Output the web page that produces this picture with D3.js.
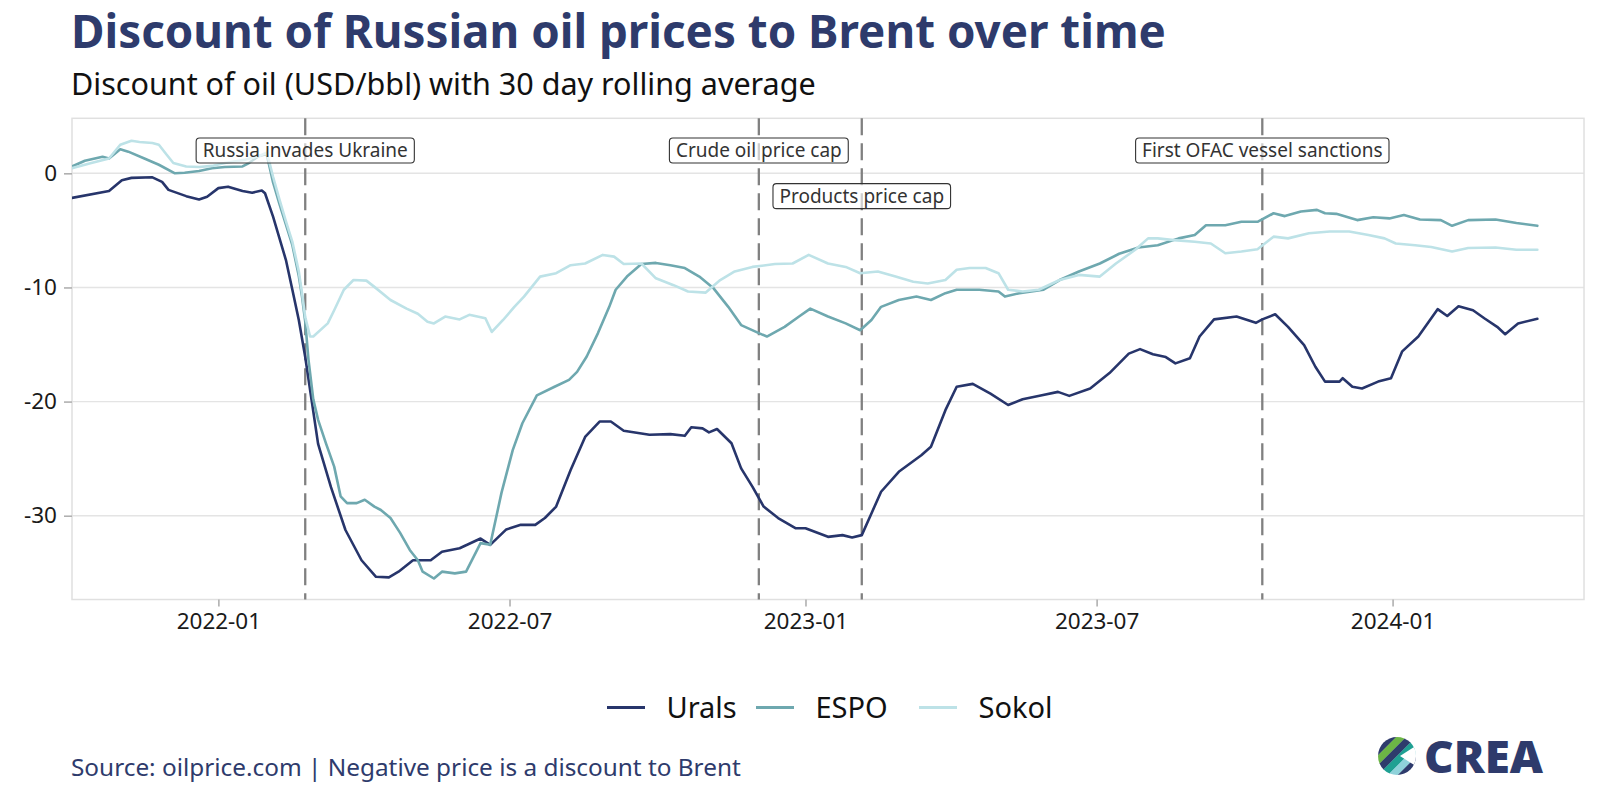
<!DOCTYPE html>
<html><head><meta charset="utf-8">
<script src="https://cdn.jsdelivr.net/npm/d3@7"></script>
<style>
body{margin:0;background:#fff}
svg{display:block}
text{font-family:"Noto Sans","Open Sans",sans-serif}
</style>
</head><body>
<svg id="chart" width="1600" height="800"></svg>
<script>
// ---------------- DATA ----------------
const seriesNames = ["Urals", "ESPO", "Sokol"];
const seriesColors = ["#27356b", "#6ea8af", "#bde2e7"];

const urals = [["2021-10-02",-2.15],["2021-10-25",-1.55],["2021-11-02",-0.6],["2021-11-08",-0.4],["2021-11-21",-0.35],["2021-11-27",-0.75],["2021-12-01",-1.45],["2021-12-12",-2.0],["2021-12-20",-2.3],["2021-12-25",-2.05],["2022-01-01",-1.3],["2022-01-07",-1.17],["2022-01-16",-1.55],["2022-01-22",-1.7],["2022-01-28",-1.5],["2022-01-30",-1.75],["2022-02-04",-3.8],["2022-02-12",-7.6],["2022-02-16",-10.2],["2022-02-20",-12.85],["2022-02-24",-16.1],["2022-02-28",-19.9],["2022-03-04",-23.7],["2022-03-12",-27.5],["2022-03-21",-31.25],["2022-03-31",-33.9],["2022-04-09",-35.35],["2022-04-17",-35.4],["2022-04-23",-34.9],["2022-05-02",-33.9],["2022-05-13",-33.9],["2022-05-20",-33.15],["2022-05-31",-32.85],["2022-06-13",-32.0],["2022-06-19",-32.55],["2022-06-29",-31.2],["2022-07-08",-30.8],["2022-07-17",-30.8],["2022-07-23",-30.2],["2022-07-30",-29.2],["2022-08-08",-26.0],["2022-08-17",-23.1],["2022-08-26",-21.75],["2022-09-02",-21.75],["2022-09-10",-22.55],["2022-09-26",-22.9],["2022-10-09",-22.85],["2022-10-18",-23.0],["2022-10-22",-22.25],["2022-10-29",-22.35],["2022-11-02",-22.7],["2022-11-07",-22.4],["2022-11-16",-23.65],["2022-11-22",-25.85],["2022-11-29",-27.45],["2022-12-06",-29.2],["2022-12-15",-30.2],["2022-12-26",-31.1],["2023-01-01",-31.1],["2023-01-15",-31.85],["2023-01-24",-31.7],["2023-01-30",-31.9],["2023-02-05",-31.7],["2023-02-11",-29.8],["2023-02-17",-27.9],["2023-02-28",-26.15],["2023-03-14",-24.7],["2023-03-20",-23.95],["2023-03-29",-20.75],["2023-04-05",-18.7],["2023-04-15",-18.45],["2023-04-26",-19.3],["2023-05-07",-20.3],["2023-05-16",-19.8],["2023-05-28",-19.45],["2023-06-07",-19.15],["2023-06-14",-19.5],["2023-06-27",-18.85],["2023-07-09",-17.5],["2023-07-21",-15.8],["2023-07-28",-15.4],["2023-08-05",-15.85],["2023-08-13",-16.1],["2023-08-19",-16.65],["2023-08-28",-16.2],["2023-09-03",-14.3],["2023-09-12",-12.8],["2023-09-26",-12.55],["2023-10-08",-13.1],["2023-10-12",-12.8],["2023-10-20",-12.35],["2023-10-28",-13.45],["2023-11-07",-15.05],["2023-11-14",-16.95],["2023-11-20",-18.25],["2023-11-29",-18.25],["2023-12-01",-17.95],["2023-12-07",-18.7],["2023-12-13",-18.85],["2023-12-23",-18.25],["2023-12-31",-17.95],["2024-01-07",-15.6],["2024-01-17",-14.3],["2024-01-29",-11.9],["2024-02-04",-12.5],["2024-02-11",-11.65],["2024-02-20",-12.0],["2024-02-27",-12.7],["2024-03-06",-13.45],["2024-03-11",-14.1],["2024-03-19",-13.15],["2024-03-31",-12.75]];

const espo = [["2021-10-02",0.6],["2021-10-10",1.1],["2021-10-21",1.45],["2021-10-25",1.3],["2021-11-01",2.1],["2021-11-06",1.9],["2021-11-16",1.3],["2021-11-25",0.75],["2021-12-05",0.0],["2021-12-11",0.05],["2021-12-20",0.2],["2021-12-28",0.45],["2022-01-05",0.55],["2022-01-16",0.6],["2022-01-20",0.9],["2022-01-26",1.5],["2022-01-31",1.7],["2022-02-04",-0.8],["2022-02-08",-2.7],["2022-02-12",-4.5],["2022-02-16",-6.3],["2022-02-20",-9.0],["2022-02-22",-10.8],["2022-02-24",-13.0],["2022-02-26",-16.3],["2022-03-01",-19.8],["2022-03-04",-21.6],["2022-03-09",-23.7],["2022-03-14",-25.7],["2022-03-18",-28.3],["2022-03-22",-28.9],["2022-03-28",-28.9],["2022-04-02",-28.6],["2022-04-08",-29.2],["2022-04-12",-29.5],["2022-04-18",-30.2],["2022-04-24",-31.5],["2022-04-30",-33.0],["2022-05-05",-33.9],["2022-05-08",-34.9],["2022-05-15",-35.5],["2022-05-20",-34.9],["2022-05-28",-35.05],["2022-06-04",-34.9],["2022-06-13",-32.4],["2022-06-19",-32.55],["2022-06-26",-28.0],["2022-07-03",-24.25],["2022-07-09",-21.9],["2022-07-18",-19.45],["2022-07-29",-18.7],["2022-08-07",-18.1],["2022-08-12",-17.4],["2022-08-18",-16.05],["2022-08-25",-14.0],["2022-09-01",-11.7],["2022-09-05",-10.2],["2022-09-12",-9.05],["2022-09-21",-7.95],["2022-09-30",-7.85],["2022-10-09",-8.05],["2022-10-18",-8.3],["2022-10-27",-9.05],["2022-11-05",-10.1],["2022-11-14",-11.7],["2022-11-22",-13.3],["2022-12-03",-14.0],["2022-12-08",-14.3],["2022-12-19",-13.45],["2022-12-28",-12.55],["2023-01-04",-11.85],["2023-01-15",-12.55],["2023-01-26",-13.15],["2023-02-04",-13.75],["2023-02-11",-12.85],["2023-02-17",-11.7],["2023-02-28",-11.1],["2023-03-11",-10.8],["2023-03-20",-11.1],["2023-03-29",-10.5],["2023-04-05",-10.2],["2023-04-19",-10.2],["2023-05-01",-10.35],["2023-05-05",-10.8],["2023-05-14",-10.5],["2023-05-29",-10.2],["2023-06-08",-9.35],["2023-06-20",-8.6],["2023-07-03",-7.9],["2023-07-15",-7.05],["2023-07-27",-6.5],["2023-08-08",-6.3],["2023-08-21",-5.7],["2023-08-31",-5.4],["2023-09-07",-4.55],["2023-09-19",-4.55],["2023-09-29",-4.25],["2023-10-09",-4.25],["2023-10-19",-3.5],["2023-10-26",-3.75],["2023-11-05",-3.35],["2023-11-15",-3.2],["2023-11-20",-3.5],["2023-11-27",-3.55],["2023-12-10",-4.1],["2023-12-20",-3.85],["2023-12-30",-3.95],["2024-01-08",-3.65],["2024-01-18",-4.05],["2024-01-31",-4.1],["2024-02-07",-4.6],["2024-02-17",-4.1],["2024-03-05",-4.05],["2024-03-18",-4.35],["2024-03-31",-4.6]];

const sokol = [["2021-10-02",0.45],["2021-10-14",0.9],["2021-10-25",1.3],["2021-11-01",2.5],["2021-11-08",2.85],["2021-11-13",2.75],["2021-11-21",2.65],["2021-11-25",2.5],["2021-11-30",1.6],["2021-12-04",0.9],["2021-12-12",0.6],["2021-12-20",0.55],["2021-12-28",0.65],["2022-01-05",0.9],["2022-01-18",1.2],["2022-01-26",1.5],["2022-01-31",1.8],["2022-02-02",0.8],["2022-02-04",-0.3],["2022-02-08",-2.3],["2022-02-12",-4.2],["2022-02-16",-6.0],["2022-02-20",-8.6],["2022-02-22",-10.5],["2022-02-24",-12.6],["2022-02-27",-14.3],["2022-03-01",-14.3],["2022-03-10",-13.15],["2022-03-14",-12.0],["2022-03-20",-10.2],["2022-03-26",-9.35],["2022-04-03",-9.4],["2022-04-08",-9.95],["2022-04-18",-11.1],["2022-04-28",-11.85],["2022-05-05",-12.3],["2022-05-11",-13.0],["2022-05-15",-13.15],["2022-05-22",-12.55],["2022-05-31",-12.8],["2022-06-06",-12.4],["2022-06-16",-12.7],["2022-06-20",-13.9],["2022-06-27",-12.85],["2022-07-04",-11.7],["2022-07-10",-10.8],["2022-07-20",-9.05],["2022-07-30",-8.75],["2022-08-08",-8.05],["2022-08-17",-7.9],["2022-08-28",-7.15],["2022-09-04",-7.3],["2022-09-10",-7.95],["2022-09-21",-7.9],["2022-09-30",-9.2],["2022-10-11",-9.8],["2022-10-20",-10.35],["2022-10-31",-10.45],["2022-11-09",-9.35],["2022-11-18",-8.6],["2022-11-29",-8.2],["2022-12-13",-7.95],["2022-12-24",-7.9],["2023-01-03",-7.15],["2023-01-15",-7.9],["2023-01-26",-8.2],["2023-02-04",-8.75],["2023-02-15",-8.6],["2023-02-26",-9.05],["2023-03-09",-9.5],["2023-03-18",-9.65],["2023-03-29",-9.35],["2023-04-05",-8.45],["2023-04-13",-8.3],["2023-04-23",-8.3],["2023-05-01",-8.75],["2023-05-07",-10.2],["2023-05-16",-10.35],["2023-05-26",-10.2],["2023-06-08",-9.35],["2023-06-20",-8.9],["2023-07-03",-9.05],["2023-07-13",-7.9],["2023-07-25",-6.7],["2023-08-02",-5.7],["2023-08-08",-5.7],["2023-08-18",-5.85],["2023-08-31",-6.0],["2023-09-10",-6.15],["2023-09-19",-7.0],["2023-09-29",-6.85],["2023-10-09",-6.65],["2023-10-19",-5.55],["2023-10-28",-5.7],["2023-11-10",-5.25],["2023-11-23",-5.1],["2023-12-05",-5.1],["2023-12-17",-5.4],["2023-12-27",-5.7],["2024-01-03",-6.15],["2024-01-15",-6.3],["2024-01-25",-6.45],["2024-02-07",-6.85],["2024-02-17",-6.55],["2024-03-05",-6.5],["2024-03-18",-6.7],["2024-03-31",-6.7]];

const yTicks = [0, -10, -20, -30];
const xTickDates = ["2022-01-01", "2022-07-01", "2023-01-01", "2023-07-01", "2024-01-01"];
const eventDates = ["2022-02-24", "2022-12-03", "2023-02-05", "2023-10-12"];
const eventLabels = ["Russia invades Ukraine", "Crude oil price cap", "Products price cap", "First OFAC vessel sanctions"];
const eventLabelY = [2, 2, -2, 2];

const titleText = "Discount of Russian oil prices to Brent over time";
const subtitleText = "Discount of oil (USD/bbl) with 30 day rolling average";
const sourceText = "Source: oilprice.com | Negative price is a discount to Brent";

// ---------------- LAYOUT ----------------
const parse = d3.utcParse("%Y-%m-%d");
const svg = d3.select("#chart");
const P = {left: 72, right: 1584, top: 118.3, bottom: 599.5};
const navy = "#2e3b6c";

const x = d3.scaleUtc().domain([parse("2021-10-02"), parse("2024-04-29")]).range([P.left, P.right]);
const y = d3.scaleLinear().domain([-37.34, 4.82]).range([P.bottom, P.top]);

function fitText(sel, targetW) {
  const n = sel.node();
  const fs = parseFloat(sel.attr("font-size"));
  const w = n.getComputedTextLength();
  sel.attr("font-size", (fs * targetW / w).toFixed(2));
}

// title & subtitle
const title = svg.append("text").attr("x", 71).attr("y", 48).attr("font-size", 42)
  .attr("font-weight", 700).attr("fill", navy).text(titleText);
fitText(title, 1095);
const sub = svg.append("text").attr("x", 71).attr("y", 95).attr("font-size", 29)
  .attr("fill", "#111").text(subtitleText);
fitText(sub, 745);

// panel gridlines
svg.append("g").selectAll("line").data(yTicks).join("line")
  .attr("x1", P.left).attr("x2", P.right)
  .attr("y1", d => y(d)).attr("y2", d => y(d))
  .attr("stroke", "#e4e4e4").attr("stroke-width", 1.4);

// panel border
svg.append("rect").attr("x", P.left).attr("y", P.top)
  .attr("width", P.right - P.left).attr("height", P.bottom - P.top)
  .attr("fill", "none").attr("stroke", "#e0e0e0").attr("stroke-width", 1.5);

// axes
const yAxis = svg.append("g").attr("transform", `translate(${P.left},0)`)
  .call(d3.axisLeft(y).tickValues(yTicks).tickSize(8).tickPadding(7).tickFormat(d => String(d)));
const xAxis = svg.append("g").attr("transform", `translate(0,${P.bottom})`)
  .call(d3.axisBottom(x).tickValues(xTickDates.map(parse)).tickSize(7).tickPadding(7)
    .tickFormat(d3.utcFormat("%Y-%m")));
[yAxis, xAxis].forEach(g => {
  g.select(".domain").remove();
  g.selectAll(".tick line").attr("stroke", "#b0b0b0").attr("stroke-width", 1.6);
  g.selectAll(".tick text").attr("fill", "#1a1a1a").attr("font-size", 22.5)
    .attr("font-family", '"Noto Sans","Open Sans",sans-serif');
});

// event lines
svg.append("clipPath").attr("id", "panelClip").append("rect")
  .attr("x", P.left).attr("y", P.top).attr("width", P.right - P.left).attr("height", P.bottom - P.top);

svg.append("g").selectAll("line").data(eventDates).join("line")
  .attr("x1", d => x(parse(d))).attr("x2", d => x(parse(d)))
  .attr("y1", P.top).attr("y2", P.bottom)
  .attr("stroke", "#808080").attr("stroke-width", 2.3).attr("stroke-dasharray", "17,8");

// series lines
const line = d3.line().x(d => x(parse(d[0]))).y(d => y(d[1]));
const allSeries = [urals, espo, sokol];
svg.append("g").attr("clip-path", "url(#panelClip)").selectAll("path").data(allSeries).join("path")
  .attr("d", d => line(d)).attr("fill", "none")
  .attr("stroke", (d, i) => seriesColors[i]).attr("stroke-width", 2.6)
  .attr("stroke-linejoin", "round").attr("stroke-linecap", "round");

// event labels
const lab = svg.append("g").selectAll("g").data(eventDates).join("g")
  .attr("transform", (d, i) => `translate(${x(parse(d))},${y(eventLabelY[i])})`);
lab.each(function(d, i) {
  const g = d3.select(this);
  const r = g.append("rect");
  const t = g.append("text").attr("text-anchor", "middle").attr("dy", "0.36em")
    .attr("font-size", 19).attr("fill", "#333").text(eventLabels[i]);
  const w = t.node().getComputedTextLength();
  r.attr("x", -w / 2 - 6.5).attr("y", -12.5).attr("width", w + 13).attr("height", 25)
    .attr("rx", 3.5).attr("fill", "#fff").attr("fill-opacity", 0.62)
    .attr("stroke", "#333").attr("stroke-width", 1.1);
});

// legend
const legendKeyX = [607, 756, 919];
const leg = svg.append("g").selectAll("g").data(seriesNames).join("g")
  .attr("transform", (d, i) => `translate(${legendKeyX[i]},707.5)`);
leg.append("line").attr("x1", 0).attr("x2", 38).attr("y1", 0).attr("y2", 0)
  .attr("stroke", (d, i) => seriesColors[i]).attr("stroke-width", 2.8);
leg.append("text").attr("x", 59.5).attr("y", 10).attr("font-size", 29)
  .attr("fill", "#111").text(d => d);

// source
const src = svg.append("text").attr("x", 71).attr("y", 776).attr("font-size", 23)
  .attr("fill", navy).text(sourceText);
fitText(src, 670);

// CREA logo
const logo = svg.append("g").attr("transform", "translate(1397,756)");
logo.append("clipPath").attr("id", "logoClip").append("circle").attr("r", 19);
const ic = logo.append("g").attr("clip-path", "url(#logoClip)");
const stripeCols = ["#2e3b6c", "#6cb545", "#2e3b6c", "#1fa093", "#8fd2da", "#2e3b6c"];
const sg = ic.append("g").attr("transform", "rotate(-45)");
sg.selectAll("rect").data(stripeCols).join("rect")
  .attr("x", -30).attr("width", 60)
  .attr("y", (d, i) => -21 + i * 7).attr("height", 7.2)
  .attr("fill", d => d);
ic.append("path").attr("d", "M3,0 L25,-14 L25,14 Z").attr("fill", "#fff");
logo.append("text").attr("x", 27).attr("y", 17).attr("font-family", "Lato, 'Noto Sans', sans-serif")
  .attr("font-weight", 900).attr("font-size", 45).attr("fill", navy)
  .attr("textLength", 119).attr("lengthAdjust", "spacingAndGlyphs").text("CREA");
</script>
</body></html>
